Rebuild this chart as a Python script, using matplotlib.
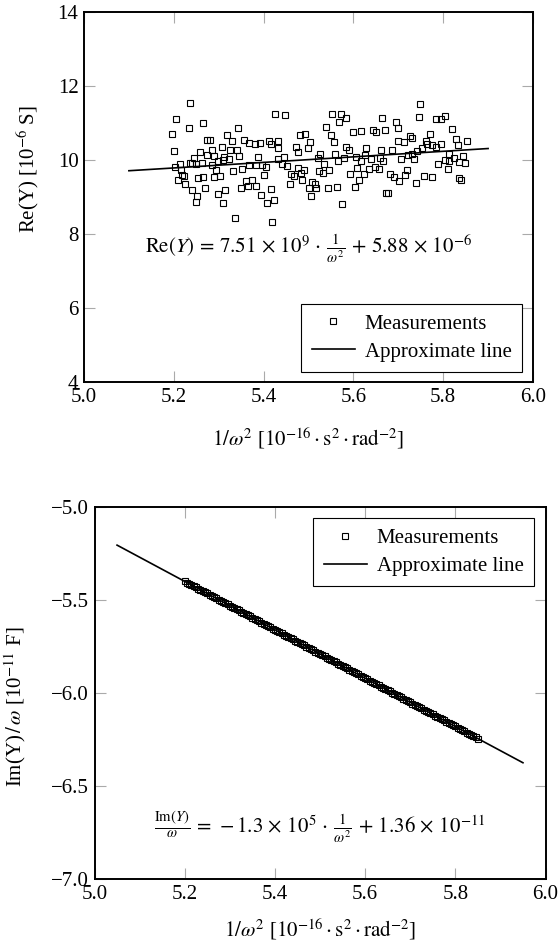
import matplotlib
matplotlib.use("Agg")
import matplotlib.pyplot as plt

plt.rcParams['font.family'] = ['Liberation Serif', 'DejaVu Serif']
plt.rcParams['mathtext.fontset'] = 'stix'
plt.rcParams['font.size'] = 15

# --- top chart: real part ---
re_x = [5.236, 5.206, 5.264, 5.233, 5.344, 5.197, 5.425, 5.318, 5.275, 5.281,
        5.329, 5.357, 5.367, 5.380, 5.391, 5.412, 5.431, 5.200, 5.308, 5.326,
        5.341, 5.286, 5.258, 5.246, 5.241, 5.275, 5.289, 5.312, 5.323, 5.345,
        5.388, 5.416, 5.432, 5.203, 5.213, 5.217, 5.235, 5.249, 5.262, 5.284,
        5.299, 5.310, 5.367, 5.382, 5.397, 5.406, 5.433, 5.223, 5.209, 5.225,
        5.255, 5.266, 5.290, 5.304, 5.332, 5.353, 5.293, 5.400, 5.360, 5.375,
        5.382, 5.366, 5.241, 5.252, 5.249, 5.269, 5.299, 5.315, 5.310, 5.350,
        5.394, 5.407, 5.416, 5.423, 5.336, 5.418, 5.219,
        5.447, 5.553, 5.572, 5.568, 5.583, 5.663, 5.540, 5.480, 5.492, 5.549,
        5.599, 5.616, 5.644, 5.651, 5.670, 5.504, 5.556, 5.473, 5.498, 5.476,
        5.584, 5.590, 5.629, 5.661, 5.526, 5.559, 5.445, 5.522, 5.535, 5.565,
        5.580, 5.606, 5.626, 5.639, 5.618, 5.660, 5.666, 5.442, 5.452, 5.477,
        5.489, 5.523, 5.546, 5.609, 5.635, 5.647, 5.658, 5.460, 5.467, 5.483,
        5.532, 5.593, 5.623, 5.612, 5.458, 5.486, 5.508, 5.514, 5.500, 5.516,
        5.543, 5.563, 5.604, 5.506, 5.575, 5.673,
        5.749, 5.745, 5.783, 5.795, 5.804, 5.694, 5.700, 5.819, 5.725, 5.730,
        5.770, 5.699, 5.712, 5.829, 5.852, 5.761, 5.765, 5.776, 5.785, 5.795,
        5.832, 5.752, 5.687, 5.742, 5.731, 5.721, 5.814, 5.844, 5.706, 5.736,
        5.803, 5.823, 5.789, 5.813, 5.835, 5.849, 5.810, 5.719, 5.681, 5.691,
        5.702, 5.715, 5.739, 5.758, 5.776, 5.835, 5.840, 5.678]
re_y = [11.54, 11.11, 11.01, 10.87, 10.86, 10.71, 11.23, 10.67, 10.53, 10.53,
        10.51, 10.55, 10.46, 10.43, 10.45, 10.52, 10.51, 10.25, 10.34, 10.28,
        10.26, 10.26, 10.21, 10.06, 9.92, 10.14, 10.10, 10.07, 10.03, 10.12,
        10.08, 10.42, 10.33, 9.82, 9.90, 9.74, 9.92, 9.90, 9.92, 9.87,
        9.97, 9.99, 9.87, 9.87, 9.87, 9.82, 10.03, 9.58, 9.45, 9.36,
        9.52, 9.54, 9.54, 9.56, 9.71, 9.77, 9.72, 9.60, 9.43, 9.45,
        9.29, 9.31, 9.20, 9.04, 8.86, 9.24, 9.09, 9.20, 8.84, 9.23,
        9.06, 8.84, 9.22, 8.93, 8.44, 8.33, 9.59,
        11.22, 11.23, 11.24, 11.04, 11.13, 11.13, 10.89, 10.67, 10.71, 10.68,
        10.75, 10.79, 10.80, 10.75, 10.82, 10.49, 10.49, 10.34, 10.33, 10.21,
        10.35, 10.28, 10.32, 10.28, 10.17, 10.15, 10.08, 10.05, 9.90, 9.97,
        10.06, 10.08, 10.14, 10.03, 9.96, 10.05, 9.98, 9.89, 9.85, 9.79,
        9.72, 9.69, 9.72, 9.78, 9.76, 9.80, 9.76, 9.63, 9.58, 9.65,
        9.65, 9.61, 9.63, 9.47, 9.34, 9.47, 9.40, 9.34, 9.25, 9.23,
        9.24, 9.28, 9.26, 9.02, 8.82, 9.11,
        11.50, 11.16, 11.11, 11.12, 11.20, 11.04, 10.86, 10.84, 10.66, 10.59,
        10.70, 10.50, 10.49, 10.57, 10.52, 10.51, 10.44, 10.40, 10.35, 10.44,
        10.41, 10.32, 10.28, 10.23, 10.16, 10.14, 10.17, 10.10, 10.03, 10.03,
        10.01, 10.06, 9.90, 9.97, 9.94, 9.92, 9.76, 9.72, 9.63, 9.54,
        9.44, 9.60, 9.38, 9.56, 9.54, 9.51, 9.45, 9.11]
re_line_x = [5.1, 5.9]
re_line_y = [9.71, 10.31]

# --- bottom chart: imaginary part / omega ---
im_x = [5.200, 5.205, 5.210, 5.215, 5.220, 5.225, 5.230, 5.235, 5.240, 5.245,
        5.250, 5.255, 5.260, 5.265, 5.270, 5.275, 5.280, 5.285, 5.290, 5.295,
        5.300, 5.305, 5.310, 5.315, 5.320, 5.325, 5.330, 5.335, 5.340, 5.345,
        5.350, 5.355, 5.360, 5.365, 5.370, 5.375, 5.380, 5.385, 5.390, 5.395,
        5.400, 5.405, 5.410, 5.415, 5.420, 5.425, 5.430, 5.435, 5.440, 5.445,
        5.450, 5.455, 5.460, 5.465, 5.470, 5.475, 5.480, 5.485, 5.490, 5.495,
        5.500, 5.505, 5.510, 5.515, 5.520, 5.525, 5.530, 5.535, 5.540, 5.545,
        5.550, 5.555, 5.560, 5.565, 5.570, 5.575, 5.580, 5.585, 5.590, 5.595,
        5.600, 5.605, 5.610, 5.615, 5.620, 5.625, 5.630, 5.635, 5.640, 5.645,
        5.650, 5.655, 5.660, 5.665, 5.670, 5.675, 5.680, 5.685, 5.690, 5.695,
        5.700, 5.705, 5.710, 5.715, 5.720, 5.725, 5.730, 5.735, 5.740, 5.745,
        5.750, 5.755, 5.760, 5.765, 5.770, 5.775, 5.780, 5.785, 5.790, 5.795,
        5.800, 5.805, 5.810, 5.815, 5.820, 5.825, 5.830, 5.835, 5.840, 5.845,
        5.850]
im_y = [-5.400, -5.4065, -5.413, -5.4195, -5.426, -5.4325, -5.439, -5.4455, -5.452, -5.4585,
        -5.465, -5.4715, -5.478, -5.4845, -5.491, -5.4975, -5.504, -5.5105, -5.517, -5.5235,
        -5.530, -5.5365, -5.543, -5.5495, -5.556, -5.5625, -5.569, -5.5755, -5.582, -5.5885,
        -5.595, -5.6015, -5.608, -5.6145, -5.621, -5.6275, -5.634, -5.6405, -5.647, -5.6535,
        -5.660, -5.6665, -5.673, -5.6795, -5.686, -5.6925, -5.699, -5.7055, -5.712, -5.7185,
        -5.725, -5.7315, -5.738, -5.7445, -5.751, -5.7575, -5.764, -5.7705, -5.777, -5.7835,
        -5.790, -5.7965, -5.803, -5.8095, -5.816, -5.8225, -5.829, -5.8355, -5.842, -5.8485,
        -5.855, -5.8615, -5.868, -5.8745, -5.881, -5.8875, -5.894, -5.9005, -5.907, -5.9135,
        -5.920, -5.9265, -5.933, -5.9395, -5.946, -5.9525, -5.959, -5.9655, -5.972, -5.9785,
        -5.985, -5.9915, -5.998, -6.0045, -6.011, -6.0175, -6.024, -6.0305, -6.037, -6.0435,
        -6.050, -6.0565, -6.063, -6.0695, -6.076, -6.0825, -6.089, -6.0955, -6.102, -6.1085,
        -6.115, -6.1215, -6.128, -6.1345, -6.141, -6.1475, -6.154, -6.1605, -6.167, -6.1735,
        -6.180, -6.1865, -6.193, -6.1995, -6.206, -6.2125, -6.219, -6.2255, -6.232, -6.2385,
        -6.245]
im_line_x = [5.05, 5.95]
im_line_y = [-5.205, -6.375]

x_ticks = [5.0, 5.2, 5.4, 5.6, 5.8, 6.0]
xlab = r"$1/\omega^2$ [$10^{-16}\cdot\mathrm{s}^2\cdot\mathrm{rad}^{-2}$]"


def style(ax):
    for s in ax.spines.values():
        s.set_linewidth(1.4)
        s.set_color('black')
    ax.tick_params(direction='in', top=True, right=True, length=8,
                   width=0.8, color='#aaaaaa', pad=4, labelsize=15)
    ax.set_xticks(x_ticks)
    ax.set_xlim(5.0, 6.0)


def add_legend(ax, loc, anchor):
    leg = ax.legend(loc=loc, bbox_to_anchor=anchor, borderaxespad=0,
                    fancybox=False, edgecolor='black', framealpha=1, numpoints=1,
                    handlelength=2.1, handletextpad=0.45, labelspacing=0.4,
                    borderpad=0.5)
    leg.get_frame().set_linewidth(0.8)


fig = plt.figure(figsize=(5.6, 9.44), dpi=100)

ax1 = fig.add_axes([84 / 560, 1 - 382 / 944, 449 / 560, 370 / 944])
style(ax1)
ax1.plot(re_x, re_y, linestyle='none', marker='s', markersize=4.5,
         mfc='none', mec='black', mew=0.8, label='Measurements')
ax1.plot(re_line_x, re_line_y, color='black', lw=1.2, label='Approximate line')
ax1.set_ylim(4, 14)
ax1.set_yticks([4, 6, 8, 10, 12, 14])
ax1.set_xlabel(xlab, fontsize=15)
ax1.set_ylabel(r"Re(Y) [10$^{-6}$ S]", fontsize=15)
ax1.xaxis.set_label_coords(0.5, -0.118)
ax1.yaxis.set_label_coords(-0.095, 0.575)
ax1.text(5.5, 7.6, r"$\mathrm{Re}(Y)\,=\,7.51\,\times\,10^{9}\,\cdot\,\frac{1}{\omega^2}\,+\,5.88\,\times\,10^{-6}$",
         ha='center', va='center', fontsize=15)
add_legend(ax1, 'lower right', (0.9755, 0.027))

ax2 = fig.add_axes([94.5 / 560, 1 - 879 / 944, 451 / 560, 372 / 944])
style(ax2)
ax2.plot(im_x, im_y, linestyle='none', marker='s', markersize=4.5,
         mfc='none', mec='black', mew=0.8, label='Measurements')
ax2.plot(im_line_x, im_line_y, color='black', lw=1.2, label='Approximate line')
ax2.set_ylim(-7.0, -5.0)
ax2.set_yticks([-7.0, -6.5, -6.0, -5.5, -5.0])
ax2.set_xlabel(xlab, fontsize=15)
ax2.set_ylabel(r"Im(Y)$\,/\,\omega$ [10$^{-11}$ F]", fontsize=15)
ax2.xaxis.set_label_coords(0.5, -0.1)
ax2.yaxis.set_label_coords(-0.148, 0.462)
ax2.text(5.5, -6.72, r"$\frac{\mathrm{Im}(Y)}{\omega}\,=\,-1.3\,\times\,10^{5}\,\cdot\,\frac{1}{\omega^2}\,+\,1.36\,\times\,10^{-11}$",
         ha='center', va='center', fontsize=15)
add_legend(ax2, 'upper right', (0.9745, 0.970))

fig.savefig("out.png", dpi=100)
